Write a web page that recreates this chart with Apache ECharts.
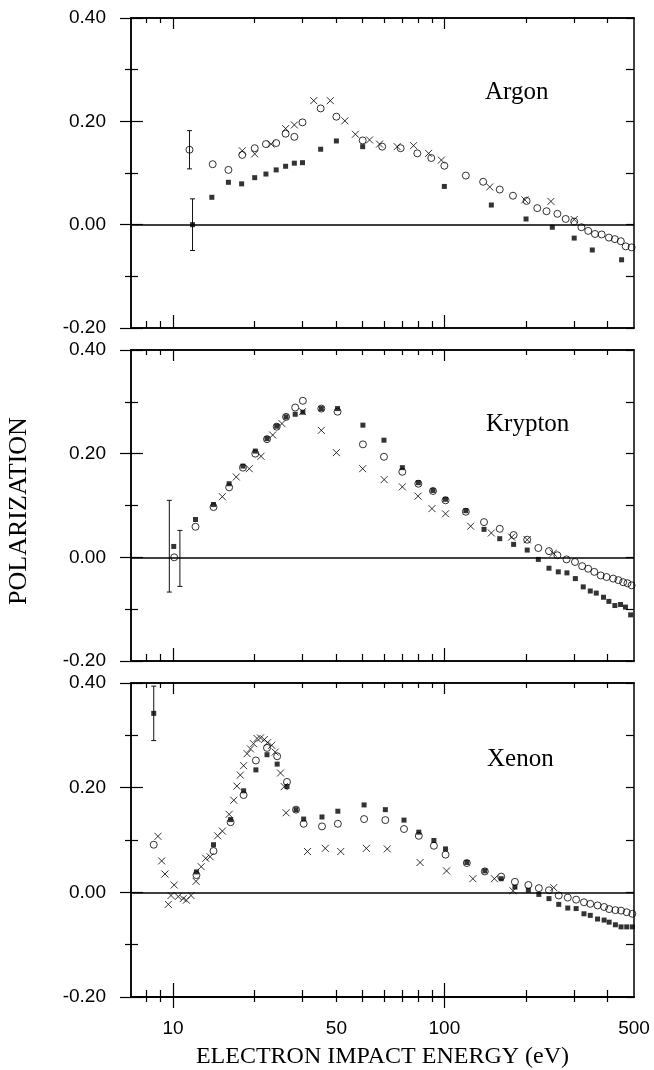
<!DOCTYPE html>
<html><head><meta charset="utf-8">
<script src="https://cdn.jsdelivr.net/npm/echarts@6/dist/echarts.min.js"></script>
<style>html,body{margin:0;padding:0;background:#fff}#c{width:654px;height:1070px}</style>
</head><body><div id="c"></div>
<script>
// ---- axis ticks / labels ----
const xMajorTicks = [10, 100];
const xMinorTicks = [8, 9, 20, 30, 40, 50, 60, 70, 80, 90, 200, 300, 400];
const xLabelValues = [10, 40, 100, 500];
const xLabelTexts = ['10', '50', '100', '500'];
const panelNames = ['Argon', 'Krypton', 'Xenon'];

// ---- Argon ----
const argonOpen = [[11.5,0.145],[14,0.117],[16,0.106],[18,0.135],[20,0.148],[22,0.156],[24,0.158],[26,0.176],[28,0.170],[30,0.198],[35,0.225],[40,0.209],[50,0.163],[59,0.151],[69,0.148],[79.5,0.138],[89.5,0.129],[100,0.114],[120,0.095],[139,0.083],[160,0.068],[179,0.056],[201,0.046],[220,0.032],[238,0.026],[261,0.021],[280,0.011],[301,0.006],[320,-0.005],[339,-0.012],[359,-0.018],[380,-0.019],[404,-0.025],[425,-0.028],[447,-0.032],[466,-0.042],[490,-0.044]];
const argonSquare = [[11.8,0.0],[13.9,0.053],[16,0.082],[17.9,0.079],[20,0.091],[22,0.098],[24,0.106],[26,0.113],[28,0.119],[30,0.120],[35,0.146],[40,0.162],[50,0.151],[100,0.074],[149,0.038],[200,0.011],[250,-0.005],[301,-0.026],[351,-0.049],[450,-0.068]];
const argonCross = [[18,0.143],[20,0.137],[23,0.156],[26,0.186],[28,0.193],[33,0.240],[38,0.240],[43,0.201],[47,0.175],[53,0.164],[57.7,0.156],[67,0.151],[77,0.153],[87.5,0.138],[97.5,0.125],[147,0.073],[198,0.048],[247,0.045],[301,0.010]];
const argonErr = [[11.5,0.108,0.182],[11.8,-0.05,0.05]];

// ---- Krypton ----
const kryptonOpen = [[10.1,0.0],[12.1,0.059],[14.1,0.097],[16.1,0.135],[18.1,0.173],[20.1,0.200],[22.2,0.228],[24.1,0.252],[26.1,0.271],[28.2,0.289],[30.1,0.302],[35.2,0.287],[40.4,0.281],[50.1,0.218],[59.9,0.194],[70,0.165],[80.2,0.142],[90.8,0.128],[101,0.110],[120,0.088],[140,0.068],[160,0.055],[180,0.043],[202,0.034],[222,0.018],[243,0.012],[261,0.004],[282,-0.004],[303,-0.009],[322,-0.017],[339,-0.022],[357,-0.028],[377,-0.035],[396,-0.038],[419,-0.041],[438,-0.044],[456,-0.048],[473,-0.050],[490,-0.054]];
const kryptonSquare = [[10.06,0.021],[12.1,0.073],[14.1,0.102],[16.1,0.142],[18.1,0.176],[20.1,0.205],[22.2,0.229],[24.1,0.253],[26.1,0.271],[28.2,0.276],[30.1,0.280],[35.2,0.287],[40.4,0.287],[50.1,0.255],[59.9,0.226],[70,0.173],[80.2,0.144],[90.8,0.129],[101,0.112],[120,0.090],[140,0.054],[160,0.036],[180,0.025],[202,0.014],[222,-0.004],[243,-0.021],[263,-0.028],[283,-0.030],[304,-0.041],[325,-0.057],[345,-0.065],[363,-0.069],[386,-0.077],[404,-0.085],[425,-0.093],[446,-0.091],[465,-0.096],[486,-0.111]];
const kryptonCross = [[15.2,0.117],[17.1,0.155],[19.1,0.171],[21.1,0.195],[23.3,0.236],[25.2,0.258],[30,0.281],[35.2,0.245],[40,0.202],[50,0.171],[60,0.150],[70,0.136],[80,0.118],[90,0.094],[101,0.084],[125,0.060],[149,0.047],[177,0.039],[202,0.034],[252,0.008]];
const kryptonErr = [[9.69,-0.067,0.110],[10.6,-0.056,0.052]];

// ---- Xenon ----
const xenonOpen = [[8.49,0.091],[12.2,0.033],[14.1,0.079],[16.3,0.134],[18.2,0.186],[20.2,0.252],[22.2,0.276],[24.2,0.260],[26.3,0.211],[28.4,0.158],[30.3,0.131],[35.4,0.126],[40.5,0.131],[50.6,0.140],[60.6,0.138],[71,0.121],[80.5,0.108],[91.5,0.089],[101,0.072],[121,0.056],[141,0.040],[162,0.030],[182,0.020],[204,0.014],[223,0.008],[243,0.004],[264,-0.006],[285,-0.010],[306,-0.014],[327,-0.019],[345,-0.022],[367,-0.025],[388,-0.028],[405,-0.032],[427,-0.034],[448,-0.035],[470,-0.038],[493,-0.041]];
const xenonSquare = [[8.49,0.342],[12.2,0.039],[14.1,0.091],[16.3,0.139],[18.2,0.194],[20.2,0.234],[22.2,0.263],[24.2,0.245],[26.3,0.202],[28.4,0.158],[30.3,0.140],[35.4,0.144],[40.5,0.155],[50.6,0.167],[60.6,0.158],[71,0.138],[80.5,0.115],[91.5,0.099],[101,0.083],[121,0.057],[141,0.041],[162,0.026],[182,0.010],[204,0.004],[223,-0.004],[243,-0.012],[264,-0.023],[285,-0.030],[306,-0.031],[327,-0.041],[345,-0.044],[367,-0.051],[388,-0.053],[405,-0.057],[427,-0.062],[448,-0.066],[470,-0.066],[493,-0.066]];
const xenonCross = [[8.8,0.107],[9.08,0.060],[9.34,0.035],[9.61,-0.023],[9.83,-0.006],[10.1,0.014],[10.45,-0.008],[10.9,-0.012],[11.2,-0.015],[11.65,-0.006],[12.16,0.021],[12.7,0.049],[13.2,0.065],[13.7,0.068],[14.6,0.108],[15.2,0.117],[16.1,0.149],[16.75,0.176],[17.2,0.203],[17.7,0.224],[18.2,0.242],[18.75,0.265],[19.3,0.274],[19.8,0.284],[20.4,0.294],[21,0.295],[21.7,0.292],[22.3,0.286],[23.1,0.281],[23.8,0.268],[24.9,0.228],[25.7,0.202],[26.1,0.152],[31.3,0.078],[36.4,0.084],[41.5,0.078],[51.6,0.084],[61.6,0.083],[81.4,0.057],[101.9,0.041],[127.4,0.026],[152.9,0.026],[179,0.003],[253,0.009]];
const xenonErr = [[8.49,0.290,0.394]];

const panels = [
  {open: argonOpen, square: argonSquare, cross: argonCross, err: argonErr},
  {open: kryptonOpen, square: kryptonSquare, cross: kryptonCross, err: kryptonErr},
  {open: xenonOpen, square: xenonSquare, cross: xenonCross, err: xenonErr}
];

// ---- layout ----
const gridTops = [18, 350, 683];
const gridHeights = [310, 311, 314];
const LEFT = 131, WIDTH = 503;
const BLACK = '#000';
const TICK_FONT = '"Liberation Sans", Arial, sans-serif';
const SERIF = '"Liberation Serif", "Times New Roman", serif';

const grids = [], xAxes = [], yAxes = [], series = [], graphics = [];

function xAxisDef(g, pos, ticks, len, inside, extra) {
  return Object.assign({
    type: 'log', logBase: 10, min: 7, max: 500, gridIndex: g, position: pos,
    axisLine: {show: true, onZero: false, lineStyle: {color: BLACK, width: 1.5}},
    axisTick: {show: true, inside: inside, length: len, customValues: ticks, lineStyle: {color: BLACK, width: 1.2}},
    axisLabel: {show: false}, splitLine: {show: false}, minorTick: {show: false}, minorSplitLine: {show: false}
  }, extra || {});
}
function yAxisDef(g, pos, interval, len, inside, minorLen, extra) {
  return Object.assign({
    type: 'value', min: -0.2, max: 0.4, interval: interval, gridIndex: g, position: pos,
    axisLine: {show: true, onZero: false, lineStyle: {color: BLACK, width: 1.5}},
    axisTick: {show: true, inside: inside, length: len, lineStyle: {color: BLACK, width: 1.2}},
    minorTick: minorLen ? {show: true, splitNumber: 2, length: minorLen, lineStyle: {color: BLACK, width: 1.2}} : {show: false},
    axisLabel: {show: false}, splitLine: {show: false}, minorSplitLine: {show: false}
  }, extra || {});
}

const crossPath = 'path://M0,0L10,10M10,0L0,10';

panels.forEach((p, g) => {
  grids.push({left: LEFT, width: WIDTH, top: gridTops[g], height: gridHeights[g], containLabel: false, outerBoundsMode: 'none'});
  const last = g === panels.length - 1;
  const xMain = xAxes.length;
  const labelExtra = last ? {
    axisLabel: {show: true, customValues: xLabelValues, margin: 22, color: BLACK, fontSize: 19, fontFamily: TICK_FONT,
      formatter: v => xLabelTexts[xLabelValues.indexOf(Math.round(v))] || ''},
    name: 'ELECTRON IMPACT ENERGY (eV)', nameLocation: 'middle', nameGap: 48,
    nameTextStyle: {color: BLACK, fontSize: 24, fontFamily: SERIF}
  } : {};
  xAxes.push(xAxisDef(g, 'bottom', xMajorTicks, last ? 14 : 13, true, labelExtra));
  xAxes.push(xAxisDef(g, 'bottom', xMinorTicks, 7, true));
  xAxes.push(xAxisDef(g, 'top', xMajorTicks, 11, true));
  xAxes.push(xAxisDef(g, 'top', xMinorTicks, 5, true));
  if (last) {
    xAxes.push(xAxisDef(g, 'bottom', xMajorTicks, 11, false));
    xAxes.push(xAxisDef(g, 'bottom', xMinorTicks, 5, false));
  }
  const yMain = yAxes.length;
  yAxes.push(yAxisDef(g, 'left', 0.2, 11, false, 6, {
    axisLabel: {show: true, margin: 25, color: BLACK, fontSize: 19, fontFamily: TICK_FONT,
      formatter: v => (Math.abs(v) < 1e-9 ? 0 : v).toFixed(2)}
  }));
  yAxes.push(yAxisDef(g, 'left', 0.2, 12, true, 7));
  yAxes.push(yAxisDef(g, 'right', 0.1, 8, true, 0));

  const base = {type: 'scatter', xAxisIndex: xMain, yAxisIndex: yMain, silent: true, animation: false};
  series.push(Object.assign({}, base, {
    name: panelNames[g] + ' open', data: p.open, symbol: 'circle', symbolSize: 7,
    itemStyle: {color: 'rgba(255,255,255,0)', borderColor: BLACK, borderWidth: 1},
    markLine: {silent: true, symbol: 'none', label: {show: false}, animation: false,
      lineStyle: {color: BLACK, width: 1.6, type: 'solid'}, data: [{yAxis: 0}]}
  }));
  series.push(Object.assign({}, base, {
    name: panelNames[g] + ' square', data: p.square, symbol: 'rect', symbolSize: 5,
    itemStyle: {color: BLACK}
  }));
  series.push(Object.assign({}, base, {
    name: panelNames[g] + ' cross', data: p.cross, symbol: crossPath, symbolSize: 7,
    itemStyle: {color: BLACK, borderColor: BLACK, borderWidth: 1}
  }));
  series.push({
    type: 'custom', xAxisIndex: xMain, yAxisIndex: yMain, silent: true, animation: false,
    data: p.err, encode: {x: 0, y: [1, 2]},
    renderItem: (params, api) => {
      const x = api.value(0);
      const a = api.coord([x, api.value(1)]);
      const b = api.coord([x, api.value(2)]);
      const cw = 2.5;
      const st = {stroke: '#111', lineWidth: 1};
      return {type: 'group', children: [
        {type: 'line', shape: {x1: a[0], y1: a[1], x2: b[0], y2: b[1]}, style: st},
        {type: 'line', shape: {x1: a[0] - cw, y1: a[1], x2: a[0] + cw, y2: a[1]}, style: st},
        {type: 'line', shape: {x1: b[0] - cw, y1: b[1], x2: b[0] + cw, y2: b[1]}, style: st}
      ]};
    }
  });
});

const nameY = [92, 424, 759];
const nameX = [485, 486, 487];
panelNames.forEach((n, i) => {
  graphics.push({type: 'text', x: nameX[i], y: nameY[i], silent: true,
    style: {text: n, font: '25px ' + SERIF, fill: BLACK, align: 'left', verticalAlign: 'middle'}});
});
graphics.push({type: 'text', x: 19, y: 511, rotation: Math.PI / 2, silent: true,
  style: {text: 'POLARIZATION', font: '26px ' + SERIF, fill: BLACK, align: 'center', verticalAlign: 'middle'}});

const chart = echarts.init(document.getElementById('c'), null, {renderer: 'canvas'});
chart.setOption({
  animation: false,
  backgroundColor: '#fff',
  grid: grids, xAxis: xAxes, yAxis: yAxes, series: series, graphic: graphics
});
</script></body></html>
